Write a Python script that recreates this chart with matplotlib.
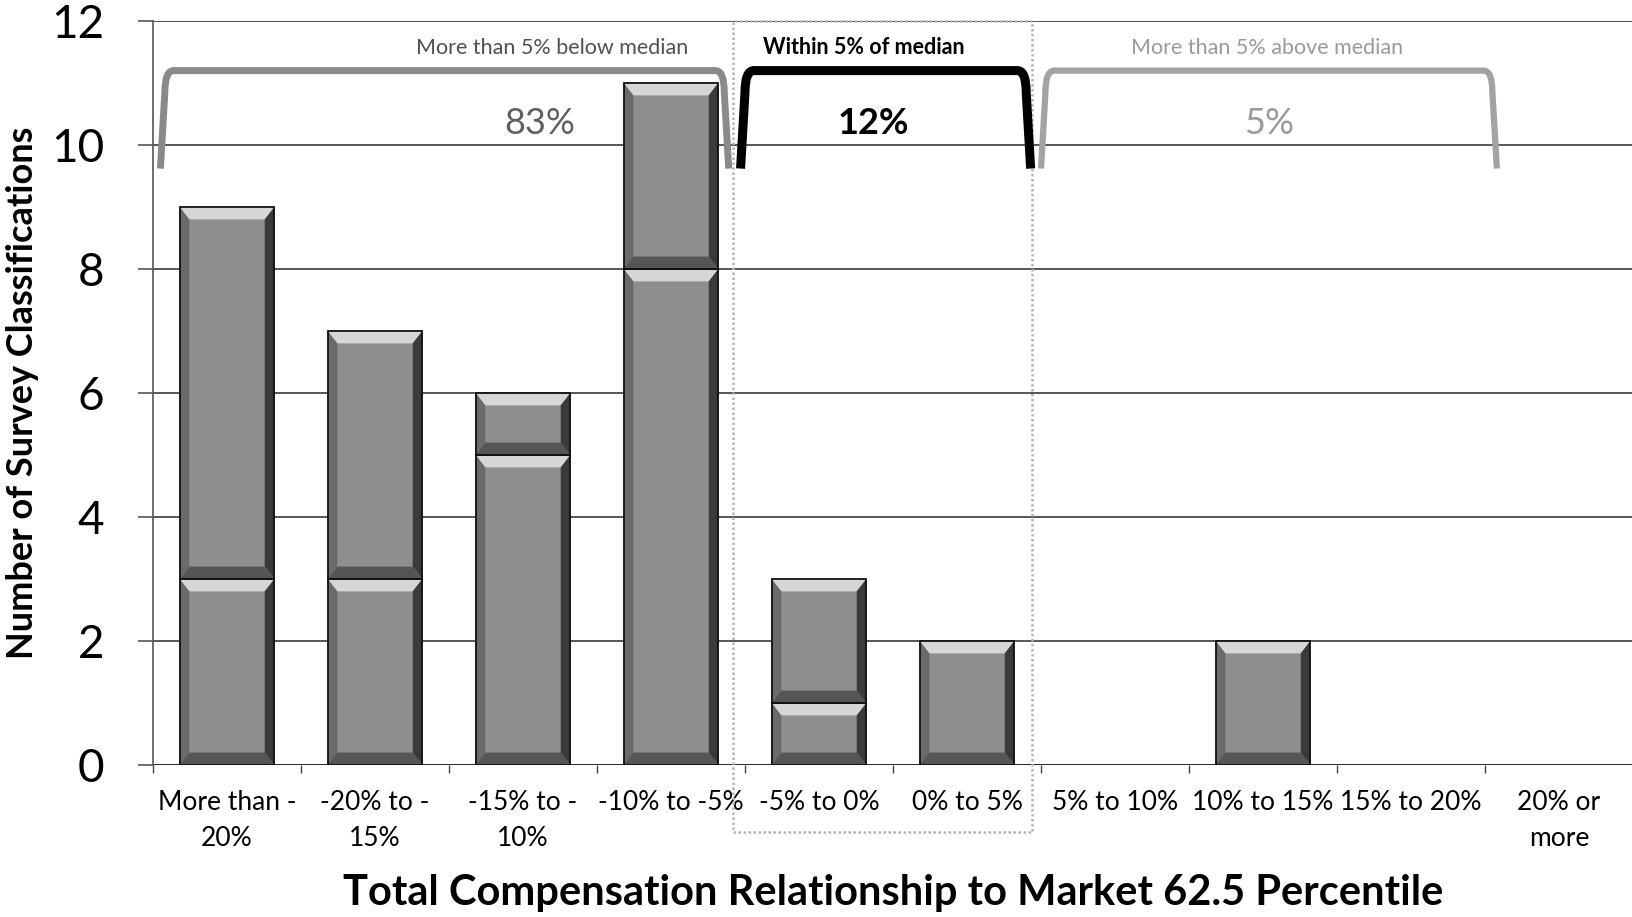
import numpy as np
import matplotlib.pyplot as plt
from matplotlib.patches import Polygon, Rectangle
from matplotlib.path import Path
from matplotlib.patches import PathPatch
import matplotlib.transforms as mtransforms

plt.rcParams['font.family'] = ['Lato', 'DejaVu Sans']

categories = ['More than -\n20%', '-20% to -\n15%', '-15% to -\n10%', '-10% to -5%',
              '-5% to 0%', '0% to 5%', '5% to 10%', '10% to 15%', '15% to 20%',
              '20% or\nmore']
lower = [3, 3, 5, 8, 1, 2, 0, 2, 0, 0]
upper = [6, 4, 1, 3, 2, 0, 0, 0, 0, 0]

groups = ['More than 5% below median', 'Within 5% of median', 'More than 5% above median']
group_share = ['83%', '12%', '5%']
group_span = [(-0.45, 3.39), (3.47, 5.43), (5.5, 8.58)]
label_x = [2.20, 4.30, 7.03]
share_x = [2.11, 4.37, 7.04]

W, H = 1633, 917
fig = plt.figure(figsize=(W / 100, H / 100), dpi=100)
ax = fig.add_axes([153 / W, 1 - 765 / H, 1 - 153 / W, (765 - 21) / H])

x = np.arange(len(categories))
width = 0.64


def bevel(ax, xc, b, h, w):
    # beveled look: light top, darker sides and bottom
    bw, bh = 0.065, 0.2
    x0, x1, y0, y1 = xc - w / 2, xc + w / 2, b, b + h
    faces = [
        ([(x0, y1), (x1, y1), (x1 - bw, y1 - bh), (x0 + bw, y1 - bh)], '#d6d6d6'),
        ([(x0, y0), (x0, y1), (x0 + bw, y1 - bh), (x0 + bw, y0 + bh)], '#6a6a6a'),
        ([(x1, y0), (x1, y1), (x1 - bw, y1 - bh), (x1 - bw, y0 + bh)], '#3a3a3a'),
        ([(x0, y0), (x1, y0), (x1 - bw, y0 + bh), (x0 + bw, y0 + bh)], '#555555'),
    ]
    for pts, c in faces:
        ax.add_patch(Polygon(pts, closed=True, facecolor=c, edgecolor='none', zorder=3))
    ax.add_patch(Rectangle((x0, y0), w, h, facecolor='none', edgecolor='#111111',
                           lw=1.3, zorder=4))


ax.bar(x, lower, width, color='#8e8e8e', edgecolor='none', zorder=2)
ax.bar(x, upper, width, bottom=lower, color='#8e8e8e', edgecolor='none', zorder=2)
for i in x:
    if lower[i] > 0:
        bevel(ax, i, 0, lower[i], width)
    if upper[i] > 0:
        bevel(ax, i, lower[i], upper[i], width)

ax.set_xlim(-0.5, len(categories) - 0.5)
ax.set_ylim(0, 12)
ax.set_yticks(range(0, 13, 2))
ax.yaxis.grid(True, color='#2a2a2a', lw=1.1)
ax.set_axisbelow(True)
for s in ['top', 'right', 'bottom']:
    ax.spines[s].set_visible(False)
ax.spines['left'].set_color('#555555')
ax.spines['left'].set_linewidth(1.2)
ax.axhline(0, color='#2a2a2a', lw=1.3, zorder=1)

ax.set_xticks(x)
ax.set_xticklabels(categories, fontsize=19, linespacing=1.55)
ax.tick_params(axis='x', length=0, pad=18)
ax.set_xticks(np.arange(-0.5, len(categories)), minor=True)
ax.tick_params(axis='x', which='minor', length=6, color='#444444', width=1)
ax.tick_params(axis='y', labelsize=33, length=11, color='#555555', width=1.2, pad=24)

fig.text(23 / W, 1 - 393 / H, 'Number of Survey Classifications', rotation=90,
         ha='center', va='center', fontsize=26, fontweight='bold')
fig.text(0.5 * (1 + 153 / W), 1 - 893 / H,
         'Total Compensation Relationship to Market 62.5 Percentile',
         ha='center', va='center', fontsize=30, fontweight='bold')

# dotted frame around the median group
trans = mtransforms.blended_transform_factory(ax.transData, ax.transAxes)
ax.add_patch(Rectangle((3.42, -0.09), 5.44 - 3.42, 1.09, transform=trans, fill=False,
                       edgecolor='#b5b5b5', lw=1.8, ls=(0, (1, 1)), clip_on=False, zorder=5))

# group brackets
styles = [dict(color='#8a8a8a', lw=5), dict(color='#000000', lw=6.5), dict(color='#a3a3a3', lw=4.5)]
label_colors = ['#505050', '#000000', '#9a9a9a']
share_colors = ['#606060', '#000000', '#9a9a9a']
weights = ['normal', 'bold', 'normal']
top, bot = 11.2, 9.62
for k, (a, b) in enumerate(group_span):
    rx, ry = 0.09, 0.35
    verts = [(a, bot), (a + 0.03, top - ry), (a + 0.03, top), (a + rx, top),
             (b - rx, top), (b - 0.03, top), (b - 0.03, top - ry), (b, bot)]
    codes = [Path.MOVETO, Path.LINETO, Path.CURVE3, Path.CURVE3,
             Path.LINETO, Path.CURVE3, Path.CURVE3, Path.LINETO]
    ax.add_patch(PathPatch(Path(verts, codes), fill=False, capstyle='butt',
                           joinstyle='round', zorder=6, **styles[k]))
    ax.text(label_x[k], 11.57, groups[k], ha='center', va='center',
            fontsize=15.5, color=label_colors[k], fontweight=weights[k])
    ax.text(share_x[k], 10.35, group_share[k], ha='center', va='center',
            fontsize=26, color=share_colors[k], fontweight=weights[k])

fig.savefig('out.png', dpi=100)
